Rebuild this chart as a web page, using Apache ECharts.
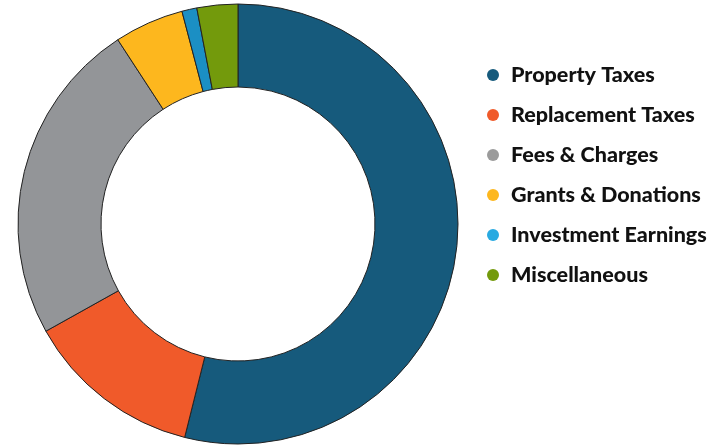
<!DOCTYPE html>
<html><head><meta charset="utf-8">
<script src="https://cdn.jsdelivr.net/npm/echarts@6/dist/echarts.min.js"></script>
<style>html,body{margin:0;padding:0;background:#fff}#c{width:726px;height:446px}</style>
</head><body><div id="c"></div>
<script>
const categories = ['Property Taxes','Replacement Taxes','Fees & Charges','Grants & Donations','Investment Earnings','Miscellaneous'];
const values = [53.9, 13.0, 23.9, 5.1, 1.1, 3.0];
const colors = ['#165a7c','#f05a2a','#939598','#fdb71e','#1b8fc4','#739a0c'];
const legendColors = ['#165a7c','#f05a2a','#9b9b9b','#fdb71e','#29aae1','#739a0c'];

const chart = echarts.init(document.getElementById('c'));
chart.setOption({
  animation: false,
  color: colors,
  legend: {
    orient: 'vertical',
    left: 482,
    top: 59,
    itemGap: 18,
    icon: 'circle',
    itemWidth: 12,
    itemHeight: 12,
    itemStyle: {borderWidth: 0},
    data: categories.map((n,i)=>({name:n, itemStyle:{color: legendColors[i], borderWidth:0}})),
    textStyle: {
      fontFamily: 'Lato',
      fontWeight: 900,
      fontSize: 21.5,
      lineHeight: 20,
      color: '#111',
      padding: [0,0,0,7]
    }
  },
  series: [{
    type: 'pie',
    center: [238, 224],
    radius: [137, 220],
    startAngle: 90,
    clockwise: true,
    label: {show: false},
    labelLine: {show: false},
    itemStyle: {borderColor: '#222', borderWidth: 1},
    emphasis: {disabled: true},
    data: categories.map((n,i)=>({name:n, value: values[i]}))
  }]
});
</script></body></html>
